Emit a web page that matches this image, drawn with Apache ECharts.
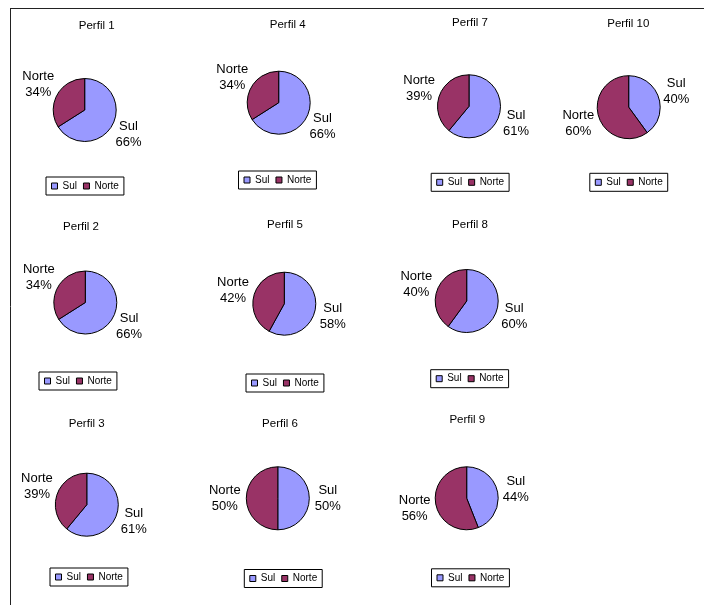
<!DOCTYPE html>
<html>
<head>
<meta charset="utf-8">
<script src="https://cdn.jsdelivr.net/npm/echarts@6/dist/echarts.min.js"></script>
<style>
html,body{margin:0;padding:0;background:#fff;}
#chart{width:704px;height:605px;}
</style>
</head>
<body>
<div id="chart"></div>
<script>
// ---- data ----
const profiles = ['Perfil 1','Perfil 2','Perfil 3','Perfil 4','Perfil 5','Perfil 6','Perfil 7','Perfil 8','Perfil 9','Perfil 10'];
const categories = ['Sul','Norte'];
const sulValues   = [66, 66, 61, 66, 58, 50, 61, 60, 44, 40];
const norteValues = [34, 34, 39, 34, 42, 50, 39, 40, 56, 60];

// ---- layout (positions only) ----
const pieCenters = [[84.7,110],[85.3,302.5],[86.8,504.7],[278.7,102.7],[284.3,303.7],[277.8,498.3],[469,106.3],[466.7,301],[466.7,498.3],[628.7,107.2]];
const titlePos = [[96.7,26],[81,227],[86.7,424],[287.7,25],[285,225],[280,424],[470,22.7],[470,225],[467.3,420],[628.3,24]];
const legendPos = [[84.5,187],[77.5,382],[88.5,578],[277,181],[284.5,384],[282.8,579.5],[469.7,183.3],[469.2,379.7],[470,578.8],[628.3,183.3]];

const colors = {Sul:'#9999FF', Norte:'#993366'};
const FONT = 'Liberation Sans, Arial, sans-serif';
const LABEL_W = 36;

const chart = echarts.init(document.getElementById('chart'), null, {renderer:'canvas'});

const series = profiles.map((p, i) => {
  const vals = [sulValues[i], norteValues[i]];
  return {
    type: 'pie',
    name: p,
    center: pieCenters[i],
    radius: 31.5,
    startAngle: 90,
    clockwise: true,
    avoidLabelOverlap: false,
    percentPrecision: 0,
    silent: true,
    itemStyle: {borderColor:'#000', borderWidth:1},
    label: {
      show: true,
      position: 'outside',
      distanceToLabelLine: -LABEL_W/2,
      formatter: '{t|{b}}\n{t|{d}%}',
      rich: {t:{width:LABEL_W, align:'center', fontSize:13, lineHeight:16, color:'#000', fontFamily:FONT}}
    },
    labelLine: {show:false, length2:0},
    data: categories.map((c, k) => ({
      name: c,
      value: vals[k],
      itemStyle: {color: colors[c]},
      labelLine: {length: c === 'Sul' ? 18.5 : 21.5, length2: 0}
    }))
  };
});

const legends = profiles.map((p, i) => ({
  left: legendPos[i][0] - 38.5,
  top: legendPos[i][1] - 10,
  orient: 'horizontal',
  data: categories,
  selectedMode: false,
  icon: 'rect',
  itemWidth: 6,
  itemHeight: 6,
  itemGap: 6,
  padding: [4,5],
  borderColor: '#000',
  borderWidth: 1,
  itemStyle: {borderColor:'#000', borderWidth:1},
  textStyle: {fontSize:10, color:'#000', fontFamily:FONT}
}));

const graphics = profiles.map((p, i) => ({
  type: 'text',
  x: titlePos[i][0],
  y: titlePos[i][1],
  style: {text: p, align:'center', verticalAlign:'middle', fontSize:11.5, fill:'#000', fontFamily:FONT}
}));
graphics.push({type:'line', shape:{x1:10, y1:8.5, x2:704, y2:8.5}, style:{stroke:'#222', lineWidth:1}});
graphics.push({type:'line', shape:{x1:10.5, y1:8, x2:10.5, y2:605}, style:{stroke:'#222', lineWidth:1}});

chart.setOption({
  backgroundColor: '#fff',
  animation: false,
  legend: legends,
  graphic: graphics,
  series: series
});
</script>
</body>
</html>
